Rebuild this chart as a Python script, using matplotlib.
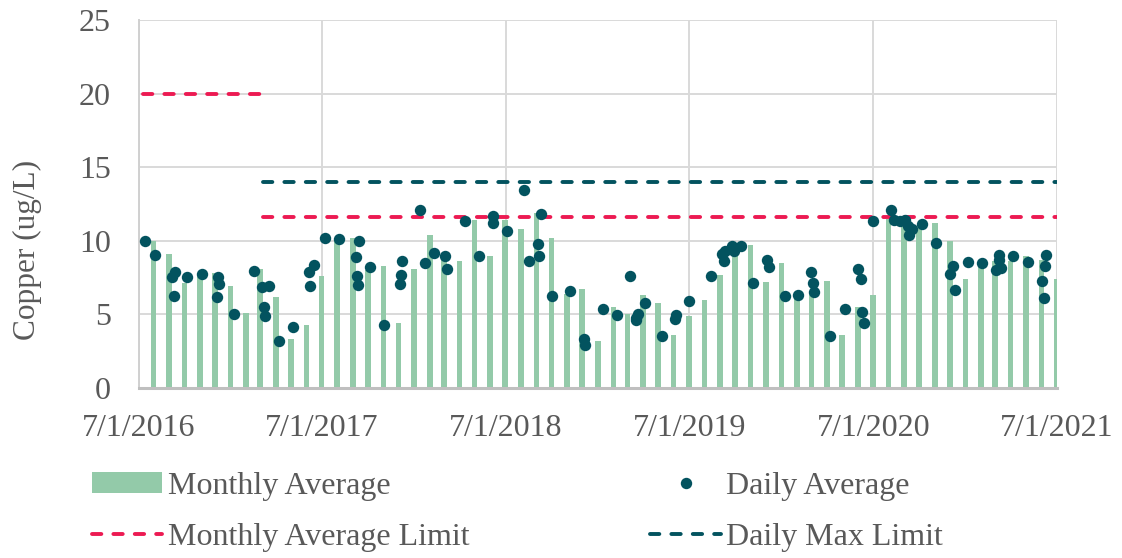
import matplotlib
matplotlib.use("Agg")
import matplotlib.pyplot as plt
import matplotlib.dates as mdates
from matplotlib.patches import Patch
from matplotlib.lines import Line2D
import pandas as pd

plt.rcParams['font.family'] = ['Liberation Serif', 'DejaVu Serif']

# ---------------- data ----------------
month_dates = pd.date_range('2016-07-31', periods=60, freq='ME')
monthly_avg = [10.0, 9.1, 7.1, 7.6, 7.8, 6.9, 5.1, 8.1, 6.2, 3.3, 4.3, 7.6,
               10.1, 10.2, 8.0, 8.3, 4.4, 8.1, 10.4, 8.8, 8.6, 11.4, 9.0, 11.4,
               10.8, 11.9, 10.2, 6.4, 6.7, 3.2, 5.5, 5.0, 6.3, 5.8, 3.6, 4.9,
               6.0, 7.7, 9.3, 9.7, 7.2, 8.5, 6.3, 6.4, 7.3, 3.6, 5.5, 6.3,
               11.5, 11.2, 11.0, 11.2, 10.0, 7.4, 8.4, 8.6, 8.6, 9.0, 8.7, 7.4]

daily_dates = ['2016-07-14', '2016-08-03', '2016-09-12', '2016-09-06', '2016-09-09',
               '2016-10-05', '2016-11-04', '2016-12-06', '2016-12-08', '2016-12-04',
               '2017-01-06', '2017-02-16', '2017-03-04', '2017-03-17', '2017-03-07',
               '2017-03-09', '2017-04-07', '2017-05-04', '2017-06-04', '2017-06-14',
               '2017-06-07', '2017-07-06', '2017-08-03', '2017-09-13', '2017-09-06',
               '2017-09-08', '2017-09-11', '2017-10-05', '2017-11-02', '2017-12-07',
               '2017-12-05', '2017-12-03', '2018-01-11', '2018-01-21', '2018-02-08',
               '2018-03-02', '2018-03-07', '2018-04-12', '2018-05-09', '2018-06-05',
               '2018-06-06', '2018-07-03', '2018-08-07', '2018-08-17', '2018-09-09',
               '2018-09-04', '2018-09-06', '2018-10-02', '2018-11-06', '2018-12-04',
               '2018-12-06', '2019-01-10', '2019-02-07', '2019-03-05', '2019-03-17',
               '2019-03-21', '2019-03-18', '2019-04-03', '2019-05-07', '2019-06-02',
               '2019-06-05', '2019-07-01', '2019-08-13', '2019-09-04', '2019-09-07',
               '2019-09-10', '2019-09-24', '2019-09-27', '2019-10-11', '2019-11-05',
               '2019-12-02', '2019-12-06', '2020-01-07', '2020-02-03', '2020-02-28',
               '2020-03-02', '2020-03-05', '2020-04-06', '2020-05-05', '2020-06-01',
               '2020-06-07', '2020-06-09', '2020-06-12', '2020-06-30', '2020-08-04',
               '2020-08-10', '2020-08-22', '2020-09-01', '2020-09-08', '2020-09-10',
               '2020-09-16', '2020-10-05', '2020-11-03', '2020-12-01', '2020-12-07',
               '2020-12-10', '2021-01-05', '2021-02-02', '2021-03-07', '2021-03-08',
               '2021-03-01', '2021-03-11', '2021-04-05', '2021-05-04', '2021-06-10',
               '2021-06-08', '2021-06-01', '2021-06-05']
daily_avg = [9.96, 9.01, 7.86, 7.54, 6.23, 7.56, 7.74, 7.52, 7.09, 6.18,
             5.03, 7.97, 6.86, 6.93, 5.53, 4.89, 3.22, 4.17, 7.90, 8.38,
             6.93, 10.19, 10.12, 10.01, 8.92, 7.59, 7.02, 8.22, 4.28, 8.65,
             7.68, 7.09, 12.11, 8.49, 9.17, 8.97, 8.08, 11.32, 8.94, 11.66,
             11.21, 10.69, 13.47, 8.63, 11.82, 9.76, 8.97, 6.25, 6.59, 3.35,
             2.94, 5.39, 4.94, 7.63, 4.75, 5.05, 4.60, 5.77, 3.51, 4.69,
             4.94, 5.89, 7.59, 9.10, 8.60, 9.28, 9.67, 9.33, 9.62, 7.13,
             8.67, 8.22, 6.27, 6.30, 7.90, 7.13, 6.50, 3.53, 5.39, 8.11,
             7.43, 5.19, 4.39, 11.32, 12.11, 11.44, 11.32, 11.39, 11.03, 10.42,
             10.80, 11.14, 9.87, 7.74, 8.27, 6.68, 8.58, 8.49, 9.01, 8.67,
             7.99, 8.13, 8.94, 8.58, 9.01, 8.27, 7.29, 6.09]

limit1_dates = ['2016-07-10', '2017-03-02']
limit1_monthly = [20, 20]
limit2_dates = ['2017-03-06', '2021-07-01']
limit2_monthly = [11.6, 11.6]
limit2_daily = [14, 14]

x_ticks = ['2016-07-01', '2017-07-01', '2018-07-01', '2019-07-01', '2020-07-01', '2021-07-01']
x_tick_labels = ['7/1/2016', '7/1/2017', '7/1/2018', '7/1/2019', '7/1/2020', '7/1/2021']

# ---------------- style ----------------
GREEN = '#93CAA9'
TEAL = '#03535F'
RED = '#EC1A52'
TXT = '#595959'
FS = 23
LFS = 23

fig = plt.figure(figsize=(11.22, 5.58), dpi=100)
ax = fig.add_axes([138.5 / 1122, 1 - 388 / 558, (1057 - 138.5) / 1122, (388 - 20) / 558])

ax.bar(month_dates, monthly_avg, width=11, color=GREEN, zorder=2)
ax.plot(pd.to_datetime(daily_dates), daily_avg, 'o', color=TEAL, ms=8.2, mew=0, zorder=4)

LW = 2.8
DASH = (2.4, 3.1)
dash_kw = dict(lw=LW, dashes=DASH, dash_capstyle='round', zorder=3)
ax.plot(pd.to_datetime(limit1_dates), limit1_monthly, color=RED, **dash_kw)
ax.plot(pd.to_datetime(limit2_dates), limit2_monthly, color=RED, **dash_kw)
ax.plot(pd.to_datetime(limit2_dates), limit2_daily, color=TEAL, **dash_kw)

ax.set_xlim(pd.Timestamp('2016-07-01'), pd.Timestamp('2021-07-01'))
ax.set_ylim(0, 25)
ax.set_yticks([0, 5, 10, 15, 20, 25])
ax.set_xticks(pd.to_datetime(x_ticks))
ax.set_xticklabels(x_tick_labels)

ax.grid(True, color='#D9D9D9', lw=1.4, zorder=0)
ax.set_axisbelow(True)
for s in ['top', 'right']:
    ax.spines[s].set_visible(False)
ax.spines['left'].set_color('#D0D0D0')
ax.spines['left'].set_linewidth(1.4)
ax.spines['bottom'].set_color('#BFBFBF')
ax.spines['bottom'].set_linewidth(2.2)
ax.spines['bottom'].set_zorder(5)

ax.tick_params(axis='both', length=0, labelsize=FS, labelcolor=TXT)
ax.tick_params(axis='y', pad=20)
ax.tick_params(axis='x', pad=19)
ax.set_ylabel('Copper (ug/L)', fontsize=22.5, color=TXT)
ax.yaxis.set_label_coords((42 - 138.5) / 918.5, (388 - 250) / 368)

handles = [Patch(facecolor=GREEN, edgecolor='none'),
           Line2D([], [], color=RED, lw=LW, dashes=DASH, dash_capstyle='round'),
           Line2D([], [], marker='o', ls='none', color=TEAL, ms=8.2, mew=0),
           Line2D([], [], color=TEAL, lw=LW, dashes=DASH, dash_capstyle='round')]
labels = ['Monthly Average', 'Monthly Average Limit', 'Daily Average', 'Daily Max Limit']
leg = fig.legend(handles, labels, ncol=2, loc='center',
                 bbox_to_anchor=(517.5 / 1122, 1 - 512 / 558),
                 frameon=False, fontsize=LFS, labelcolor=TXT,
                 handlelength=2.2, handletextpad=0.17, columnspacing=5.67,
                 labelspacing=0.7, borderpad=0, handleheight=0.63)

fig.savefig('out.png', dpi=100)
